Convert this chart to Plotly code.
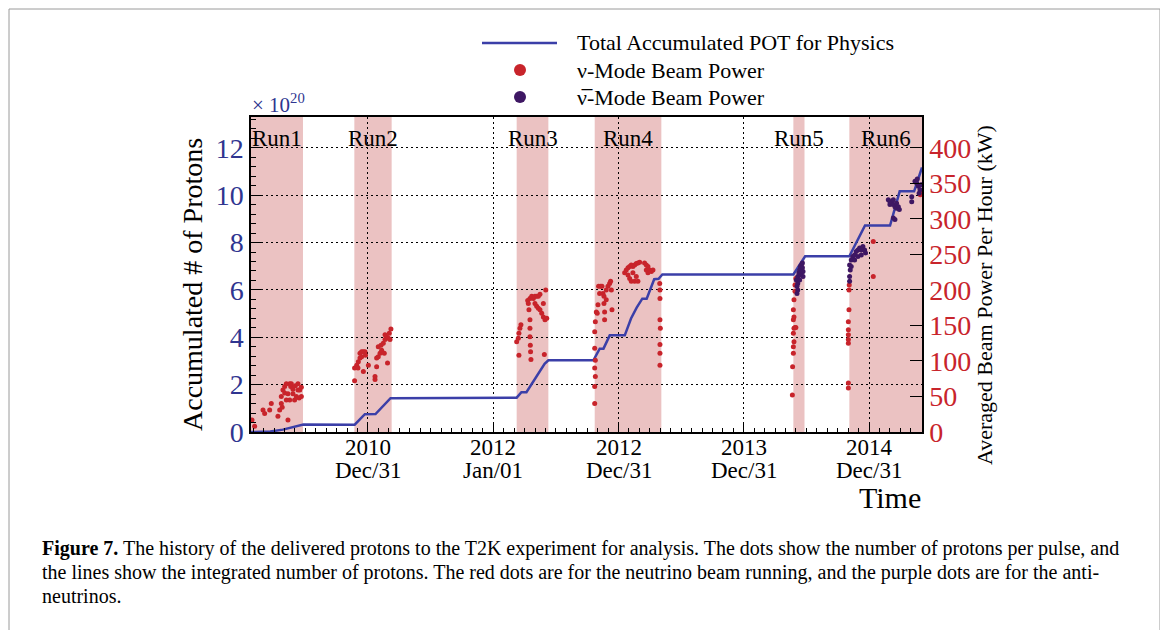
import plotly.graph_objects as go

# ---------------- data (decimal year) ----------------
pot_t = [2010.066, 2010.22, 2010.32, 2010.43, 2010.484, 2010.894, 2010.975, 2011.06, 2011.18,
         2012.187, 2012.225, 2012.265, 2012.41, 2012.44, 2012.80, 2012.85, 2012.88, 2012.93,
         2013.05, 2013.10, 2013.145, 2013.19, 2013.225, 2013.285, 2013.32, 2013.35,
         2014.396, 2014.49, 2014.843, 2014.968, 2015.168, 2015.245, 2015.36, 2015.423]
pot_v = [0.0, 0.02, 0.10, 0.25, 0.32, 0.31, 0.75, 0.76, 1.43,
         1.45, 1.68, 1.68, 2.88, 3.03, 3.03, 3.52, 3.52, 4.08,
         4.08, 4.79, 5.25, 5.63, 5.63, 6.45, 6.47, 6.65,
         6.65, 7.42, 7.42, 8.72, 8.72, 10.16, 10.16, 11.17]

nu_t = [2010.074, 2010.095, 2010.162, 2010.175, 2010.215, 2010.228, 2010.281, 2010.295, 2010.308, 2010.308,
        2010.321, 2010.335, 2010.335, 2010.348, 2010.348, 2010.361, 2010.361, 2010.375, 2010.375, 2010.383,
        2010.388, 2010.401, 2010.401, 2010.414, 2010.420, 2010.428, 2010.441, 2010.441, 2010.450, 2010.455,
        2010.468, 2010.468, 2010.315,
        2010.893, 2010.893, 2010.910, 2010.920, 2010.923, 2010.936, 2010.936, 2010.949, 2010.949, 2010.963,
        2010.963, 2010.976, 2010.980, 2011.003, 2011.056, 2011.056, 2011.069, 2011.069, 2011.082, 2011.082,
        2011.096, 2011.104, 2011.109, 2011.122, 2011.130, 2011.136, 2011.136, 2011.149, 2011.156, 2011.162,
        2011.170, 2011.176, 2011.183,
        2012.187, 2012.200, 2012.205, 2012.205, 2012.213, 2012.221, 2012.275, 2012.280, 2012.285, 2012.293,
        2012.293, 2012.293, 2012.293, 2012.296, 2012.298, 2012.301, 2012.307, 2012.320, 2012.333, 2012.333,
        2012.347, 2012.347, 2012.360, 2012.360, 2012.373, 2012.373, 2012.387, 2012.400, 2012.400, 2012.408,
        2012.413, 2012.419, 2012.427,
        2012.810, 2012.810, 2012.815, 2012.810, 2012.815, 2012.810, 2012.810, 2012.815, 2012.823, 2012.830,
        2012.836, 2012.841, 2012.849, 2012.857, 2012.868, 2012.876, 2012.884, 2012.884, 2012.889, 2012.889,
        2012.902, 2012.902, 2012.916, 2012.929, 2012.937, 2012.943, 2012.948, 2013.049, 2013.062, 2013.076,
        2013.076, 2013.089, 2013.089, 2013.102, 2013.102, 2013.115, 2013.115, 2013.129, 2013.129, 2013.142,
        2013.142, 2013.155, 2013.155, 2013.169, 2013.208, 2013.222, 2013.222, 2013.235, 2013.235, 2013.248,
        2013.262, 2013.275, 2013.329, 2013.331, 2013.331, 2013.331, 2013.334, 2013.331, 2013.331, 2013.331,
        2014.388, 2014.390, 2014.396, 2014.396, 2014.401, 2014.396, 2014.401, 2014.409, 2014.416, 2014.396,
        2014.401, 2014.396, 2014.401, 2014.409, 2014.409, 2014.416,
        2014.835, 2014.835, 2014.835, 2014.835, 2014.835, 2014.835, 2014.835, 2014.840, 2014.840, 2014.842,
        2015.034, 2015.034, 2015.418, 2015.410]
nu_kw = [17, 8, 31, 26, 31, 40, 22, 31, 40, 50,
         59, 64, 55, 68, 45, 54, 17, 45, 68, 64,
         68, 54, 60, 45, 65, 50, 68, 59, 48, 59,
         50, 63, 35,
         72, 90, 94, 90, 99, 111, 104, 113, 106, 113,
         85, 113, 108, 94, 74, 78, 92, 104, 106, 120,
         111, 122, 115, 125, 111, 130, 137, 134, 97, 132,
         139, 130, 145,
         127, 132, 139, 108, 146, 151, 185, 181, 172, 188,
         158, 146, 134, 122, 113, 102, 191, 188, 191, 181,
         191, 177, 191, 174, 194, 172, 167, 162, 181, 109,
         158, 200, 160,
         40, 64, 78, 90, 101, 118, 141, 155, 169, 167,
         179, 205, 195, 205, 205, 195, 181, 191, 169, 158,
         200, 186, 205, 209, 212, 200, 172, 224, 228, 231,
         221, 233, 216, 235, 212, 233, 224, 235, 212, 237,
         219, 238, 212, 239, 238, 235, 228, 233, 224, 228,
         226, 228, 209, 200, 188, 158, 146, 123, 111, 94,
         52, 92, 111, 120, 127, 139, 146, 147, 147, 158,
         162, 172, 186, 198, 207, 216,
         62, 69, 125, 130, 137, 144, 155, 172, 200, 207,
         268, 219, 339, 334]

anu_t = [2014.420, 2014.425, 2014.425, 2014.431, 2014.431, 2014.431, 2014.440, 2014.446, 2014.446, 2014.452,
         2014.452, 2014.460, 2014.460, 2014.468, 2014.468, 2014.473, 2014.473,
         2014.845, 2014.845, 2014.845, 2014.850, 2014.858, 2014.858, 2014.870, 2014.885, 2014.885, 2014.898,
         2014.911, 2014.911, 2014.925, 2014.938, 2014.938, 2014.951, 2014.965, 2014.972,
         2015.154, 2015.167, 2015.167, 2015.180, 2015.194, 2015.194, 2015.194, 2015.207, 2015.207, 2015.220,
         2015.220, 2015.234, 2015.242, 2015.341, 2015.341, 2015.367, 2015.381, 2015.385, 2015.394, 2015.400,
         2015.407, 2015.415]
anu_kw = [214, 205, 195, 209, 219, 200, 224, 228, 214, 233,
          221, 235, 224, 238, 231, 226, 219,
          219, 212, 235, 228, 242, 233, 247, 249, 242, 254,
          256, 247, 259, 256, 249, 261, 256, 252,
          327, 324, 320, 322, 320, 327, 301, 317, 299, 315,
          322, 317, 313, 324, 331, 353, 350, 356, 346, 336,
          341, 348]

run_names = ["Run1", "Run2", "Run3", "Run4", "Run5", "Run6"]
run_start = [2010.066, 2010.891, 2012.187, 2012.810, 2014.396, 2014.843]
run_end = [2010.481, 2011.189, 2012.440, 2013.342, 2014.485, 2015.423]

x_tickvals = [2011, 2012, 2013, 2014, 2015]
x_tick_year = ["2010", "2012", "2012", "2013", "2014"]
x_tick_day = ["Dec/31", "Jan/01", "Dec/31", "Dec/31", "Dec/31"]
y_tickvals = [0, 2, 4, 6, 8, 10, 12]
y2_tickvals = [0, 50, 100, 150, 200, 250, 300, 350, 400]

legend_labels = ["Total Accumulated POT for Physics", "\u03bd-Mode Beam Power", "\u03bd\u0305-Mode Beam Power"]

# ---------------- layout helpers (reference-pixel coordinates) ----------------
OFF = 8                      # the page body margin shifts the figure by 8 px
W, H = 1168 - OFF, 630 - OFF
L, R, T, B = 251, 922, 117, 432
def px(x):
    return (x - L) / (R - L)
def py(y):
    return (B - y) / (B - T)

FONT = "Liberation Serif, Times New Roman, serif"
BLUE_TXT = "#2F3590"
RED = "#C8242B"
PURPLE = "#3E1763"
LINE_BLUE = "#3B3FA8"
BAND = "#EBC2C2"

fig = go.Figure()
fig.add_trace(go.Scatter(x=nu_t, y=nu_kw, mode="markers", yaxis="y2",
                         marker=dict(color=RED, size=5), name=legend_labels[1], showlegend=False))
fig.add_trace(go.Scatter(x=anu_t, y=anu_kw, mode="markers", yaxis="y2",
                         marker=dict(color=PURPLE, size=5), name=legend_labels[2], showlegend=False))
fig.add_trace(go.Scatter(x=pot_t, y=pot_v, mode="lines", yaxis="y",
                         line=dict(color=LINE_BLUE, width=2.5),
                         name=legend_labels[0], showlegend=False))

shapes = []
annotations = []
for name, s, e in zip(run_names, run_start, run_end):
    shapes.append(dict(type="rect", xref="x", yref="paper", x0=s, x1=e, y0=0, y1=1,
                       fillcolor=BAND, line=dict(width=0), layer="below"))
    annotations.append(dict(x=(s + e) / 2, xref="x", y=py(138), yref="paper", text=name,
                            showarrow=False, font=dict(family=FONT, size=23, color="black"),
                            xanchor="center", yanchor="middle"))

# two-line date tick labels under the time axis
for tv, yr, day in zip(x_tickvals, x_tick_year, x_tick_day):
    annotations.append(dict(x=tv, xref="x", y=py(447), yref="paper", text=yr, showarrow=False,
                            xanchor="center", yanchor="middle",
                            font=dict(family=FONT, size=23, color="black")))
    annotations.append(dict(x=tv, xref="x", y=py(470), yref="paper", text=day, showarrow=False,
                            xanchor="center", yanchor="middle",
                            font=dict(family=FONT, size=23, color="black")))

# legend (drawn in the top margin)
shapes.append(dict(type="line", xref="paper", yref="paper", x0=px(482), x1=px(557),
                   y0=py(43), y1=py(43), line=dict(color=LINE_BLUE, width=2.5)))
for yy, col in [(70, RED), (97, PURPLE)]:
    shapes.append(dict(type="circle", xref="paper", yref="paper", x0=px(514), x1=px(526),
                       y0=py(yy + 6), y1=py(yy - 6), fillcolor=col, line=dict(width=0)))
for yy, lab in zip([43, 70, 97], legend_labels):
    annotations.append(dict(x=px(575), y=py(yy), xref="paper", yref="paper", text=lab,
                            showarrow=False, xanchor="left", yanchor="middle",
                            font=dict(family=FONT, size=22, color="black")))

# outer figure border
shapes.append(dict(type="rect", xref="paper", yref="paper", x0=px(9), x1=px(1160),
                   y0=py(660), y1=py(9), line=dict(color="#9a9a9a", width=1),
                   fillcolor="rgba(0,0,0,0)", layer="above"))

caption_lines = [
    "<b>Figure 7.</b> The history of the delivered protons to the T2K experiment for analysis. "
    "The dots show the number of protons per pulse, and",
    "the lines show the integrated number of protons. The red dots are for the neutrino beam running, "
    "and the purple dots are for the anti-",
    "neutrinos.",
]
for i, line in enumerate(caption_lines):
    annotations.append(dict(x=px(40), y=py(548 + 24 * i), xref="paper", yref="paper", text=line,
                            showarrow=False, xanchor="left", yanchor="middle", align="left",
                            font=dict(family=FONT, size=20, color="black")))

annotations += [
    dict(x=px(250), y=py(104), xref="paper", yref="paper", text="\u00d7 10<sup>20</sup>",
         showarrow=False, xanchor="left", yanchor="middle",
         font=dict(family=FONT, size=21, color=BLUE_TXT)),
    dict(x=px(192), y=py(285), xref="paper", yref="paper", text="Accumulated # of Protons",
         showarrow=False, textangle=-90, xanchor="center", yanchor="middle",
         font=dict(family=FONT, size=28, color="black")),
    dict(x=px(984), y=py(295), xref="paper", yref="paper",
         text="Averaged Beam Power Per Hour (kW)", showarrow=False, textangle=-90,
         xanchor="center", yanchor="middle", font=dict(family=FONT, size=22, color="black")),
    dict(x=px(923), y=py(497), xref="paper", yref="paper", text="Time", showarrow=False,
         xanchor="right", yanchor="middle", font=dict(family=FONT, size=30, color="black")),
]

DOT = "2px,3px"
fig.update_layout(
    width=W, height=H,
    margin=dict(l=L - OFF, r=W - (R - OFF), t=T - OFF, b=H - (B - OFF), autoexpand=False),
    paper_bgcolor="white", plot_bgcolor="white",
    font=dict(family=FONT, color="black"),
    shapes=shapes, annotations=annotations,
    showlegend=False,
    xaxis=dict(range=[2010.066, 2015.423], tickmode="array", tickvals=x_tickvals,
               showticklabels=False, ticks="inside", ticklen=10, tickwidth=1.2, tickcolor="black",
               showline=True, mirror=True, linecolor="black", linewidth=1.5,
               showgrid=True, gridcolor="black", griddash=DOT, gridwidth=1,
               zeroline=False,
               minor=dict(tickmode="linear", tick0=2011, dtick=1 / 12, ticks="inside",
                          ticklen=4, tickcolor="black", showgrid=False)),
    yaxis=dict(range=[0, 13.3], tickmode="array", tickvals=y_tickvals, ticks="inside",
               ticklen=10, tickwidth=1.2, tickcolor="black",
               showline=True, mirror=True, linecolor="black", linewidth=1.5,
               showgrid=True, gridcolor="black", griddash=DOT, gridwidth=1,
               zeroline=False, tickfont=dict(family=FONT, size=28, color=BLUE_TXT),
               minor=dict(tickmode="linear", tick0=0, dtick=0.4, ticks="inside",
                          ticklen=5, tickcolor="black", showgrid=False)),
    yaxis2=dict(range=[0, 443.3], overlaying="y", side="right", tickmode="array",
                tickvals=y2_tickvals, ticks="inside", ticklen=12, tickwidth=1.2, tickcolor="black",
                showline=True, linecolor="black", linewidth=1.5, showgrid=False, zeroline=False,
                tickfont=dict(family=FONT, size=28, color=RED)),
)

fig.write_html("out.html")
